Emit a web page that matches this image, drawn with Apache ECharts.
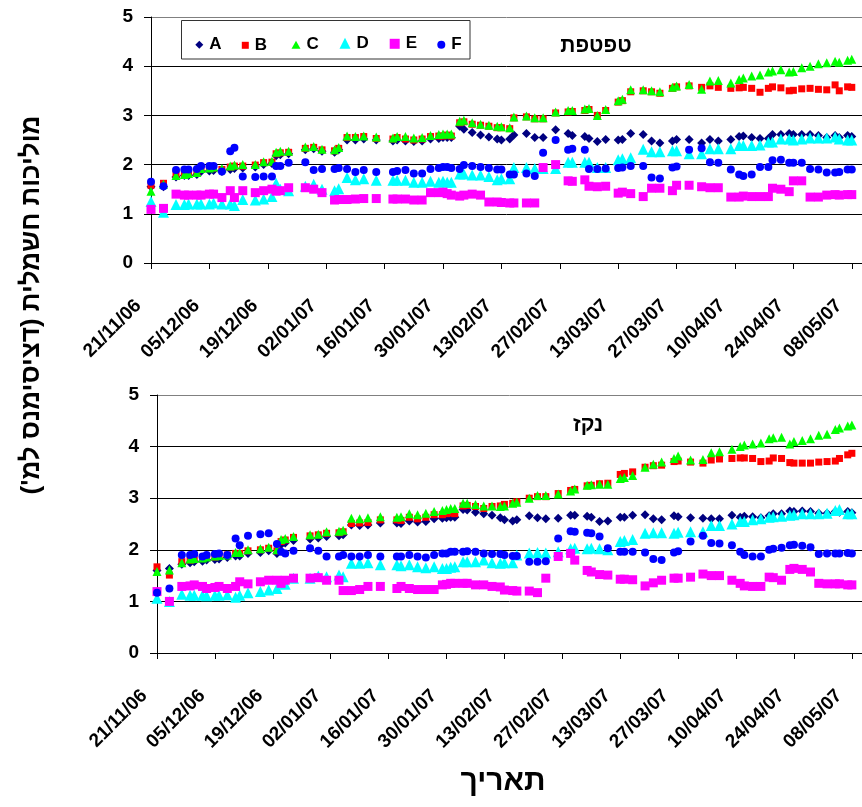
<!DOCTYPE html>
<html>
<head>
<meta charset="utf-8">
<script src="https://cdn.jsdelivr.net/npm/echarts@6/dist/echarts.min.js"></script>
<style>
  html, body { margin: 0; padding: 0; background: #fff; }
  #chart { width: 862px; height: 807px; }
</style>
</head>
<body>
<div id="chart"></div>
<script>
// Sampling dates (dd/mm/yy)
const dates = [
  '21/11/06','24/11/06','27/11/06','29/11/06','30/11/06','02/12/06','03/12/06','05/12/06','06/12/06','08/12/06',
  '10/12/06','11/12/06','13/12/06','16/12/06','18/12/06','20/12/06','21/12/06','22/12/06','24/12/06','28/12/06',
  '30/12/06','01/01/07','04/01/07','05/01/07','07/01/07','09/01/07','11/01/07','14/01/07','18/01/07','19/01/07',
  '21/01/07','23/01/07','25/01/07','27/01/07','29/01/07','30/01/07','31/01/07','01/02/07','03/02/07','04/02/07',
  '06/02/07','08/02/07','10/02/07','12/02/07','13/02/07','15/02/07','16/02/07','19/02/07','21/02/07','23/02/07',
  '26/02/07','01/03/07','02/03/07','05/03/07','06/03/07','08/03/07','10/03/07','13/03/07','14/03/07','16/03/07',
  '19/03/07','21/03/07','23/03/07','26/03/07','27/03/07','30/03/07','02/04/07','04/04/07','06/04/07','09/04/07',
  '11/04/07','12/04/07','14/04/07','16/04/07','18/04/07','19/04/07','21/04/07','23/04/07','24/04/07','26/04/07',
  '28/04/07','30/04/07','02/05/07','04/05/07','05/05/07','07/05/07','08/05/07'
];

// Date axis tick labels
const tickDates = ['21/11/06','05/12/06','19/12/06','02/01/07','16/01/07','30/01/07','13/02/07',
  '27/02/07','13/03/07','27/03/07','10/04/07','24/04/07','08/05/07'];

const yTicks = [0, 1, 2, 3, 4, 5];
const seriesNames = ['A', 'B', 'C', 'D', 'E', 'F'];

// Drip water (טפטפת) EC values
const dripA = [
  1.55,1.55,1.75,1.78,1.78,1.80,1.86,1.87,1.88,1.86,
  1.90,1.92,1.93,1.95,2.00,2.02,2.18,2.20,2.22,2.30,
  2.32,2.27,2.25,2.30,2.50,2.50,2.52,2.50,2.48,2.50,
  2.48,2.47,2.48,2.52,2.53,2.55,2.55,2.55,2.78,2.72,
  2.65,2.60,2.56,2.52,2.50,2.52,2.60,2.63,2.55,2.55,
  2.71,2.63,2.59,2.57,2.53,2.47,2.51,2.50,2.51,2.63,
  2.61,2.48,2.44,2.48,2.51,2.51,2.44,2.51,2.48,2.51,
  2.57,2.58,2.55,2.53,2.53,2.61,2.61,2.63,2.61,2.61,
  2.61,2.59,2.55,2.59,2.55,2.59,2.57
];
const dripB = [
  1.58,1.62,1.80,1.82,1.83,1.85,1.90,1.92,1.93,1.90,
  1.95,1.97,1.97,1.99,2.04,2.05,2.22,2.24,2.25,2.33,
  2.35,2.30,2.28,2.33,2.55,2.55,2.57,2.53,2.52,2.55,
  2.52,2.50,2.52,2.57,2.58,2.58,2.60,2.58,2.85,2.87,
  2.82,2.80,2.78,2.75,2.75,2.73,2.95,2.97,2.93,2.93,
  3.05,3.07,3.08,3.10,3.12,3.00,3.10,3.27,3.30,3.48,
  3.50,3.48,3.45,3.55,3.58,3.60,3.57,3.60,3.57,3.55,
  3.56,3.57,3.55,3.47,3.55,3.58,3.56,3.50,3.51,3.54,
  3.55,3.53,3.52,3.62,3.50,3.58,3.57
];
const dripC = [
  1.46,1.60,1.78,1.80,1.82,1.84,1.92,1.93,1.95,1.92,
  1.97,1.99,2.00,2.00,2.06,2.07,2.25,2.27,2.27,2.36,
  2.37,2.31,2.30,2.35,2.58,2.57,2.58,2.56,2.54,2.57,
  2.57,2.54,2.55,2.59,2.61,2.62,2.62,2.62,2.88,2.90,
  2.85,2.82,2.80,2.78,2.77,2.75,2.97,2.99,2.95,2.95,
  3.07,3.10,3.10,3.13,3.14,3.00,3.12,3.30,3.33,3.52,
  3.52,3.50,3.48,3.57,3.60,3.63,3.53,3.70,3.71,3.66,
  3.73,3.76,3.80,3.82,3.88,3.90,3.93,3.88,3.89,3.97,
  4.00,4.05,4.07,4.10,4.08,4.12,4.14
];
const dripD = [
  1.25,1.03,1.19,1.19,1.20,1.20,1.20,1.20,1.22,1.20,
  1.20,1.17,1.29,1.28,1.30,1.35,1.62,1.50,1.47,1.56,
  1.60,1.50,1.47,1.51,1.74,1.69,1.71,1.68,1.68,1.68,
  1.68,1.64,1.64,1.66,1.64,1.66,1.64,1.64,1.81,1.81,
  1.79,1.79,1.76,1.69,1.71,1.71,1.94,1.94,1.92,1.92,
  1.92,2.05,2.05,2.05,2.05,1.94,1.94,2.10,2.12,2.14,
  2.31,2.26,2.26,2.28,2.28,2.22,2.22,2.32,2.32,2.32,
  2.39,2.39,2.39,2.40,2.46,2.46,2.52,2.52,2.50,2.52,
  2.54,2.54,2.54,2.56,2.52,2.50,2.50
];
const dripE = [
  1.09,1.11,1.40,1.38,1.38,1.38,1.38,1.40,1.40,1.33,
  1.47,1.33,1.47,1.43,1.47,1.50,1.46,1.47,1.53,1.53,
  1.50,1.43,1.28,1.29,1.29,1.30,1.31,1.31,1.30,1.30,
  1.30,1.28,1.28,1.43,1.43,1.44,1.41,1.38,1.36,1.38,
  1.40,1.38,1.24,1.24,1.23,1.22,1.22,1.22,1.22,1.94,
  2.00,1.67,1.66,1.69,1.56,1.55,1.56,1.42,1.44,1.41,
  1.35,1.52,1.52,1.47,1.58,1.58,1.55,1.53,1.53,1.34,
  1.34,1.36,1.35,1.35,1.35,1.52,1.50,1.45,1.67,1.67,
  1.34,1.34,1.38,1.39,1.38,1.39,1.39
];
const dripF = [
  1.65,1.56,1.89,1.90,1.90,1.91,1.97,1.97,1.97,1.86,
  2.27,2.34,1.76,1.75,1.76,1.76,1.97,1.97,2.04,2.05,
  1.89,1.91,1.91,1.93,1.91,1.85,1.89,1.85,1.85,1.87,
  1.89,1.82,1.82,1.91,1.93,1.95,1.95,1.93,1.91,1.99,
  1.97,1.95,1.93,1.90,1.90,1.80,1.80,1.82,1.77,2.24,
  2.50,2.30,2.32,2.30,1.91,1.91,1.92,1.93,1.94,1.97,
  1.97,1.74,1.72,1.94,1.96,2.30,2.33,2.05,2.04,1.90,
  1.80,1.77,1.80,1.95,1.95,2.09,2.10,2.04,2.04,2.04,
  1.91,1.90,1.84,1.84,1.85,1.90,1.90
];

// Drainage water (נקז) EC values
const drainA = [
  1.60,1.64,1.72,1.75,1.77,1.78,1.80,1.81,1.82,1.85,
  1.88,1.88,1.93,1.95,1.98,1.93,2.10,2.13,2.18,2.21,
  2.23,2.26,2.27,2.29,2.48,2.47,2.48,2.52,2.52,2.51,
  2.56,2.54,2.55,2.60,2.61,2.62,2.63,2.63,2.78,2.77,
  2.73,2.70,2.67,2.62,2.58,2.56,2.58,2.66,2.62,2.60,
  2.61,2.67,2.67,2.65,2.63,2.55,2.56,2.63,2.63,2.67,
  2.68,2.60,2.58,2.66,2.64,2.62,2.61,2.60,2.60,2.67,
  2.63,2.65,2.64,2.62,2.66,2.70,2.70,2.75,2.74,2.75,
  2.74,2.71,2.71,2.74,2.73,2.74,2.72
];
const drainB = [
  1.67,1.51,1.77,1.80,1.81,1.83,1.85,1.86,1.87,1.90,
  1.93,1.93,1.98,2.00,2.03,1.98,2.16,2.19,2.24,2.27,
  2.29,2.32,2.33,2.35,2.51,2.52,2.53,2.58,2.58,2.57,
  2.63,2.60,2.63,2.68,2.68,2.70,2.71,2.70,2.85,2.86,
  2.84,2.80,2.84,2.85,2.88,2.90,2.93,3.00,3.03,3.03,
  3.09,3.15,3.17,3.24,3.25,3.28,3.29,3.46,3.48,3.51,
  3.60,3.63,3.64,3.71,3.72,3.70,3.68,3.74,3.76,3.77,
  3.78,3.78,3.77,3.71,3.72,3.78,3.77,3.69,3.68,3.68,
  3.68,3.70,3.71,3.72,3.77,3.84,3.87
];
const drainC = [
  1.58,1.61,1.75,1.82,1.83,1.84,1.86,1.88,1.89,1.90,
  1.95,1.95,2.00,2.02,2.05,2.00,2.20,2.22,2.26,2.29,
  2.30,2.35,2.36,2.38,2.61,2.60,2.62,2.64,2.63,2.64,
  2.70,2.68,2.71,2.74,2.76,2.78,2.80,2.80,2.90,2.90,
  2.88,2.85,2.85,2.84,2.85,2.90,2.92,3.00,3.05,3.05,
  3.08,3.14,3.18,3.25,3.26,3.27,3.27,3.38,3.40,3.44,
  3.60,3.66,3.70,3.77,3.82,3.74,3.75,3.88,3.90,3.95,
  4.00,4.03,4.05,4.07,4.15,4.17,4.18,4.05,4.10,4.12,
  4.15,4.22,4.24,4.33,4.36,4.40,4.42
];
const drainD = [
  1.06,1.00,1.14,1.12,1.12,1.12,1.11,1.12,1.12,1.13,
  1.08,1.12,1.17,1.19,1.22,1.25,1.35,1.33,1.45,1.45,
  1.49,1.48,1.51,1.48,1.74,1.74,1.75,1.71,1.71,1.69,
  1.71,1.67,1.65,1.67,1.64,1.64,1.66,1.67,1.77,1.77,
  1.77,1.80,1.75,1.74,1.75,1.75,1.90,1.94,1.95,1.94,
  1.96,2.02,2.03,2.02,2.03,2.02,2.00,2.16,2.18,2.20,
  2.32,2.33,2.33,2.32,2.34,2.35,2.35,2.47,2.47,2.50,
  2.55,2.55,2.58,2.60,2.63,2.64,2.65,2.67,2.68,2.70,
  2.70,2.70,2.71,2.76,2.78,2.70,2.70
];
const drainE = [
  1.19,1.00,1.29,1.30,1.32,1.29,1.25,1.27,1.29,1.25,
  1.29,1.38,1.34,1.38,1.41,1.41,1.35,1.41,1.45,1.45,
  1.46,1.41,1.41,1.21,1.21,1.23,1.29,1.29,1.25,1.29,
  1.25,1.23,1.23,1.23,1.32,1.33,1.35,1.35,1.35,1.35,
  1.32,1.32,1.29,1.28,1.22,1.21,1.20,1.20,1.17,1.45,
  1.87,1.93,1.80,1.60,1.57,1.52,1.51,1.43,1.43,1.42,
  1.30,1.36,1.41,1.45,1.45,1.47,1.53,1.50,1.50,1.41,
  1.35,1.30,1.29,1.29,1.47,1.46,1.41,1.62,1.64,1.62,
  1.57,1.35,1.34,1.34,1.34,1.32,1.32
];
const drainF = [
  1.17,1.25,1.90,1.90,1.92,1.87,1.90,1.92,1.93,1.90,
  2.22,2.09,2.27,2.30,2.32,2.11,1.96,1.93,1.98,2.03,
  1.98,1.87,1.87,1.90,1.87,1.87,1.90,1.87,1.87,1.87,
  1.90,1.87,1.85,1.90,1.93,1.93,1.96,1.96,1.96,1.97,
  1.96,1.93,1.92,1.92,1.90,1.88,1.88,1.77,1.77,1.78,
  2.22,2.36,2.35,2.33,2.32,2.26,2.03,1.96,1.96,1.96,
  1.95,1.82,1.80,1.95,1.97,2.16,2.27,2.13,2.12,2.09,
  1.96,1.90,1.87,1.87,2.00,2.02,2.04,2.09,2.10,2.08,
  2.05,1.92,1.93,1.93,1.93,1.94,1.93
];

const dripValues = [dripA, dripB, dripC, dripD, dripE, dripF];
const drainValues = [drainA, drainB, drainC, drainD, drainE, drainF];

// Marker look per series
const markers = {
  A: { symbol: 'diamond',  size: 9,  color: '#000080' },
  B: { symbol: 'rect',     size: 7,  color: '#FF0000' },
  C: { symbol: 'triangle', size: 9,  color: '#00FF00' },
  D: { symbol: 'triangle', size: 11, color: '#00FFFF' },
  E: { symbol: 'rect',     size: 9,  color: '#FF00FF' },
  F: { symbol: 'circle',   size: 8,  color: '#0000FF' }
};

const FONT = '"Liberation Sans", Arial, "DejaVu Sans", sans-serif';
const BASE = Date.UTC(2006, 10, 21);
const DAY = 86400000;
const pad = n => (n < 10 ? '0' : '') + n;
function dayOf(s) {
  const p = s.split('/').map(Number);
  return Math.round((Date.UTC(2000 + p[2], p[1] - 1, p[0]) - BASE) / DAY);
}
function fmtDay(v) {
  const t = new Date(BASE + v * DAY);
  return pad(t.getUTCDate()) + '/' + pad(t.getUTCMonth() + 1) + '/' + pad(t.getUTCFullYear() % 100);
}
const tickDays = tickDates.map(dayOf);
const xDays = dates.map(dayOf);

function xAxisFor(gridIndex) {
  return {
    type: 'value', gridIndex: gridIndex, min: 0, max: 170.45, interval: 14,
    axisLine: { show: true, onZero: false, lineStyle: { color: '#000', width: 1 } },
    axisTick: { show: true, length: 6, customValues: tickDays, lineStyle: { color: '#000' } },
    axisLabel: {
      customValues: tickDays, rotate: 45, margin: 27, padding: [0, 18, 0, 0],
      color: '#000', fontWeight: 'bold', fontSize: 19, fontFamily: FONT,
      formatter: v => fmtDay(v)
    },
    splitLine: { show: false }
  };
}
function yAxisFor(gridIndex) {
  return {
    type: 'value', gridIndex: gridIndex, min: yTicks[0], max: yTicks[yTicks.length - 1], interval: 1,
    axisLine: { show: true, lineStyle: { color: '#000', width: 1 } },
    axisTick: { show: true, length: 7, lineStyle: { color: '#000' } },
    axisLabel: { margin: 18, color: '#000', fontWeight: 'bold', fontSize: 19, fontFamily: FONT },
    splitLine: { show: true, lineStyle: { color: ['#000', '#000', '#000', '#000', '#000', '#808080'], width: 1 } }
  };
}

const series = [];
[dripValues, drainValues].forEach((group, p) => {
  group.forEach((vals, k) => {
    const name = seriesNames[k];
    const m = markers[name];
    series.push({
      name: name, type: 'scatter', xAxisIndex: p, yAxisIndex: p,
      symbol: m.symbol, symbolSize: m.size,
      itemStyle: { color: m.color, opacity: 1 },
      emphasis: { disabled: true },
      data: xDays.map((d, i) => [d, vals[i]])
    });
  });
});

// Legend entries, each with its own marker size
const legendPos = {
  A: { cx: 199.3, w: 8,  h: 8 },
  B: { cx: 245.3, w: 7,  h: 7 },
  C: { cx: 296,   w: 9,  h: 8 },
  D: { cx: 345,   w: 11, h: 11 },
  E: { cx: 394.7, w: 10, h: 10 },
  F: { cx: 441.3, w: 8,  h: 8 }
};
const legendCy = 40.3;
const legends = seriesNames.map(name => {
  const lp = legendPos[name];
  const m = markers[name];
  return {
    data: [{ name: name, icon: m.symbol }],
    left: lp.cx - lp.w / 2, top: legendCy - lp.h / 2,
    itemWidth: lp.w, itemHeight: lp.h, padding: 0,
    selectedMode: false, orient: 'horizontal',
    textStyle: { color: '#000', fontWeight: 'bold', fontSize: 17, fontFamily: FONT, padding: [0, 0, 0, 1] }
  };
});

const chart = echarts.init(document.getElementById('chart'), null, { renderer: 'canvas' });
chart.setOption({
  animation: false,
  backgroundColor: '#fff',
  grid: [
    { left: 151, top: 17, width: 711, height: 246 },
    { left: 157, top: 395, width: 705, height: 258 }
  ],
  xAxis: [xAxisFor(0), xAxisFor(1)],
  yAxis: [yAxisFor(0), yAxisFor(1)],
  legend: legends,
  graphic: [
    {
      type: 'rect', z: 1,
      shape: { x: 181.5, y: 20.5, width: 288.5, height: 38.5 },
      style: { fill: '#fff', stroke: '#333', lineWidth: 1 }
    },
    {
      type: 'text', x: 596, y: 46, z: 5,
      style: { text: 'טפטפת', fontSize: 21, fontWeight: 'bold', fontFamily: FONT, fill: '#000', align: 'center', verticalAlign: 'middle' }
    },
    {
      type: 'text', x: 588, y: 425, z: 5,
      style: { text: 'נקז', fontSize: 21, fontWeight: 'bold', fontFamily: FONT, fill: '#000', align: 'center', verticalAlign: 'middle' }
    },
    {
      type: 'text', x: 32, y: 305, rotation: Math.PI / 2, z: 5,
      style: { text: 'מוליכות חשמלית (דציסימנס למ\')\u200F', fontSize: 26, fontWeight: 'bold', fontFamily: FONT, fill: '#000', align: 'center', verticalAlign: 'middle' }
    },
    {
      type: 'text', x: 503, y: 782, z: 5,
      style: { text: 'תאריך', fontSize: 30, fontWeight: 'bold', fontFamily: FONT, fill: '#000', align: 'center', verticalAlign: 'middle' }
    }
  ],
  series: series
});
</script>
</body>
</html>
